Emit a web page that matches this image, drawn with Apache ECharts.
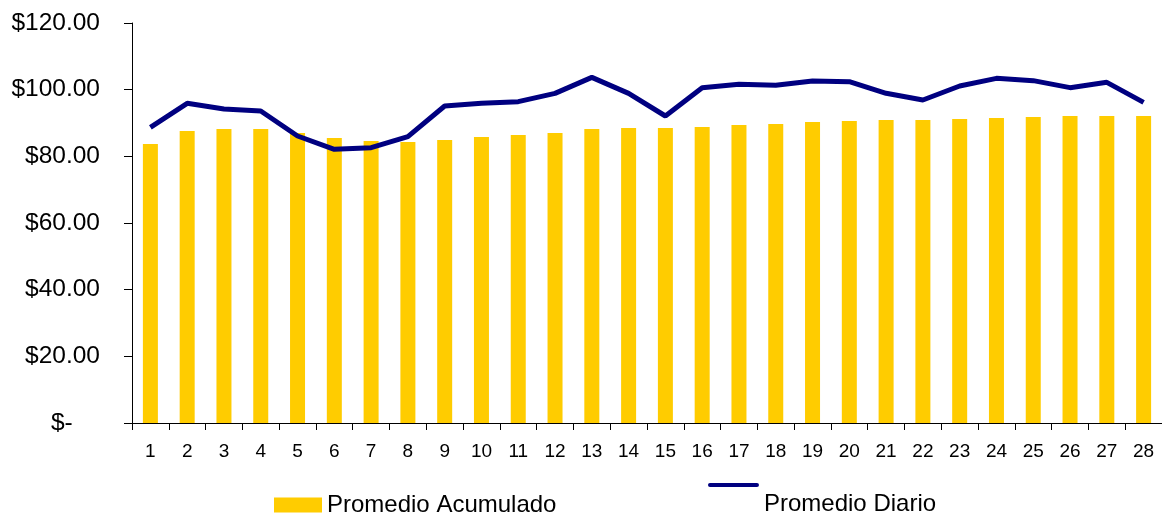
<!DOCTYPE html>
<html><head><meta charset="utf-8">
<script src="https://cdn.jsdelivr.net/npm/echarts@6/dist/echarts.min.js"></script>
<style>html,body{margin:0;padding:0;background:#fff}#c{width:1162px;height:517px}</style>
</head><body><div id="c"></div>
<script>
const categories = ['1','2','3','4','5','6','7','8','9','10','11','12','13','14','15','16','17','18','19','20','21','22','23','24','25','26','27','28'];
const promedioAcumulado = [83.7,87.6,88.2,88.2,87.0,85.5,84.6,84.3,84.9,85.8,86.4,87.0,88.2,88.5,88.5,88.8,89.4,89.7,90.3,90.6,90.9,90.9,91.2,91.5,91.8,92.1,92.1,92.1];
const promedioDiario = [88.7,95.9,94.2,93.6,86.1,82.1,82.6,85.9,95.1,95.9,96.4,98.9,103.7,98.9,92.1,100.6,101.6,101.3,102.6,102.4,98.9,96.9,101.1,103.4,102.7,100.6,102.2,96.2];
const yTicks = [0,20,40,60,80,100,120];

const font = 'Liberation Sans, Arial, sans-serif';
const chart = echarts.init(document.getElementById('c'), null, {renderer:'canvas'});
chart.setOption({
  animation:false,
  backgroundColor:'#fff',
  grid:{left:132,right:0,top:23,bottom:94,containLabel:false},
  legend:[
    {data:['Promedio Acumulado'],left:274,top:493,padding:0,itemWidth:48,itemHeight:15,itemGap:6,icon:'rect',
     textStyle:{fontFamily:font,fontSize:24,lineHeight:24,color:'#000'}},
    {data:['Promedio Diario'],left:708,top:483,padding:0,itemWidth:51,itemHeight:42,itemGap:4,
     icon:'path://M2,0 L49,0 A2,2 0 0 1 49,4 L2,4 A2,2 0 0 1 2,0 Z M0,42 L0.01,42 L0,42.01 Z',
     itemStyle:{color:'#000080'},lineStyle:{opacity:0},
     textStyle:{fontFamily:font,fontSize:24,lineHeight:24,color:'#000'}}
  ],
  xAxis:{type:'category',data:categories,boundaryGap:true,
    axisLine:{lineStyle:{color:'#000',width:1}},
    axisTick:{show:true,length:7,lineStyle:{color:'#000'}},
    axisLabel:{fontFamily:font,fontSize:19,color:'#000',margin:19}},
  yAxis:{type:'value',min:0,max:120,interval:20,
    axisLine:{show:true,lineStyle:{color:'#000',width:1}},
    axisTick:{show:true,length:8,lineStyle:{color:'#000'}},
    splitLine:{show:false},
    axisLabel:{fontFamily:font,fontSize:24.5,color:'#000',margin:32,
      formatter:v=> yTicks.includes(v) ? (v===0 ? '$-    ' : '$'+v.toFixed(2)) : ''}},
  series:[
    {name:'Promedio Acumulado',type:'bar',data:promedioAcumulado,barWidth:15,
     itemStyle:{color:'#FFCC00'}},
    {name:'Promedio Diario',type:'line',data:promedioDiario,symbol:'none',
     lineStyle:{color:'#000080',width:5},itemStyle:{color:'#000080'}}
  ]
});
</script></body></html>
